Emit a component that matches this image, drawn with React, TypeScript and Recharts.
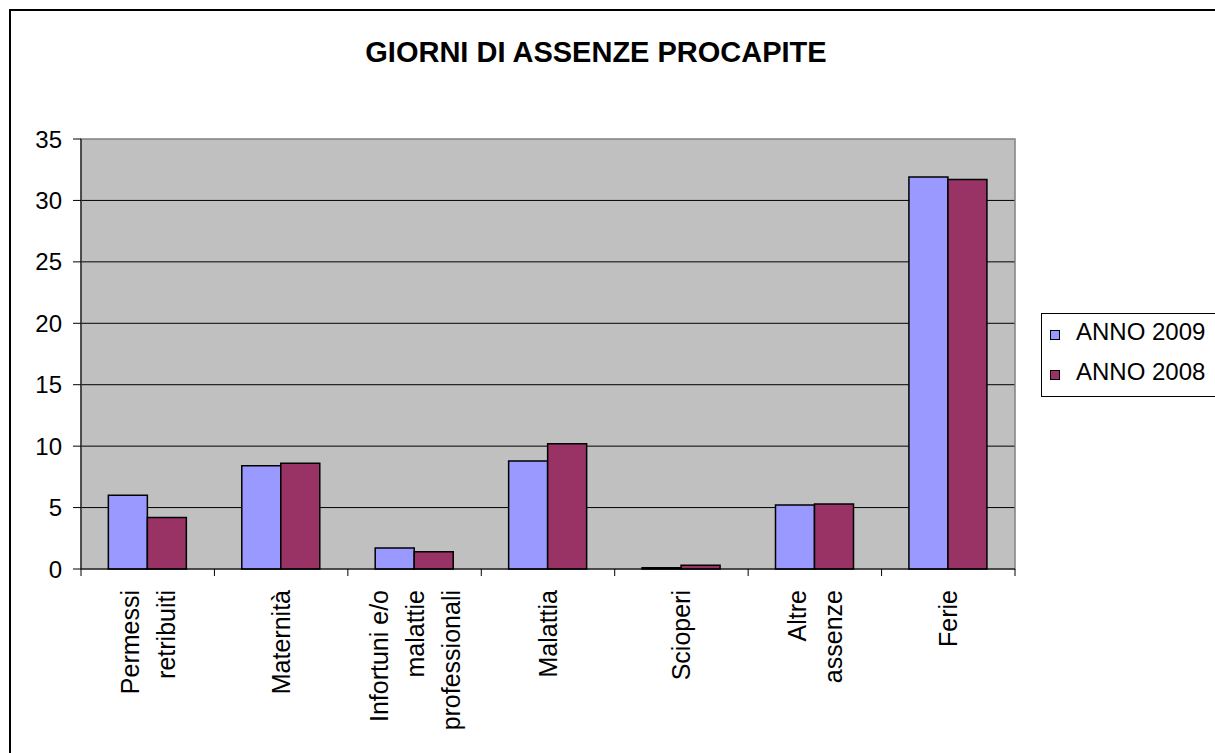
import React from 'react';
import {
  BarChart,
  Bar,
  XAxis,
  YAxis,
  CartesianGrid,
  ReferenceArea,
} from 'recharts';

const categories = [
  'Permessi retribuiti',
  'Maternità',
  'Infortuni e/o malattie professionali',
  'Malattia',
  'Scioperi',
  'Altre assenze',
  'Ferie',
];

// wrapped lines for the rotated axis labels
const categoryLines = [
  ['Permessi', 'retribuiti'],
  ['Maternità'],
  ['Infortuni e/o', 'malattie', 'professionali'],
  ['Malattia'],
  ['Scioperi'],
  ['Altre', 'assenze'],
  ['Ferie'],
];

const anno2009 = [6.0, 8.4, 1.7, 8.8, 0.1, 5.2, 31.9];
const anno2008 = [4.2, 8.6, 1.4, 10.2, 0.3, 5.3, 31.7];

const yTicks = [0, 5, 10, 15, 20, 25, 30, 35];
const gridValues = [5, 10, 15, 20, 25, 30];

const data = categories.map((name, i) => ({
  name,
  y2009: anno2009[i],
  y2008: anno2008[i],
}));

const FONT = '"Liberation Sans", Arial, sans-serif';
const WIDTH = 1207;
const HEIGHT = 745;
const Y_AXIS_W = 73;
const RIGHT = 200;
const BAND = (WIDTH - Y_AXIS_W - RIGHT) / categories.length;

const COLOR_2009 = '#9999FF';
const COLOR_2008 = '#993366';

type TickProps = {
  x?: number;
  y?: number;
  index?: number;
};

const CategoryTick = ({ x = 0, y = 0, index = 0 }: TickProps) => {
  const lines = categoryLines[index] || [];
  const n = lines.length;
  const last = index === categories.length - 1;
  return (
    <g>
      <line x1={x - BAND / 2} x2={x - BAND / 2} y1={y} y2={y + 7} stroke="#000" />
      {last && (
        <line x1={x + BAND / 2} x2={x + BAND / 2} y1={y} y2={y + 7} stroke="#000" />
      )}
      <g transform={`translate(${x},${y + 21})`}>
        <text
          transform="rotate(-90)"
          textAnchor="end"
          fontSize={25}
          fontFamily={FONT}
          fill="#000"
        >
          {lines.map((l, i) => (
            <tspan
              key={i}
              x={0}
              y={(i - (n - 1) / 2) * 36}
              dominantBaseline="central"
            >
              {l}
            </tspan>
          ))}
        </text>
      </g>
    </g>
  );
};

const legendItems = [
  { label: 'ANNO 2009', color: COLOR_2009 },
  { label: 'ANNO 2008', color: COLOR_2008 },
];

const LegendBox = () => (
  <div
    style={{
      position: 'absolute',
      left: 1041,
      top: 313,
      width: 200,
      height: 82,
      border: '1px solid #000',
      background: '#fff',
      fontFamily: FONT,
    }}
  >
    {legendItems.map((item, i) => (
      <React.Fragment key={item.label}>
        <div
          style={{
            position: 'absolute',
            left: 8,
            top: 16 + i * 40,
            width: 10,
            height: 10,
            boxSizing: 'border-box',
            border: '1px solid #000',
            background: item.color,
          }}
        />
        <div
          style={{
            position: 'absolute',
            left: 34,
            top: 6 + i * 40,
            fontSize: 24,
            lineHeight: '24px',
            whiteSpace: 'nowrap',
            color: '#000',
          }}
        >
          {item.label}
        </div>
      </React.Fragment>
    ))}
  </div>
);

const App = () => {
  return (
    <div
      style={{
        position: 'fixed',
        left: 0,
        top: 0,
        width: 1215,
        height: 753,
        overflow: 'hidden',
        background: '#fff',
        fontFamily: FONT,
      }}
    >
      <div
        style={{
          position: 'absolute',
          left: 9,
          top: 9,
          width: 1240,
          height: 800,
          border: '2px solid #000',
        }}
      />
      <div
        style={{
          position: 'absolute',
          left: 296,
          top: 38,
          width: 600,
          textAlign: 'center',
          fontSize: 29,
          lineHeight: '29px',
          fontWeight: 'bold',
          whiteSpace: 'nowrap',
          color: '#000',
        }}
      >
        GIORNI DI ASSENZE PROCAPITE
      </div>
      <div style={{ position: 'absolute', left: 8, top: 8 }}>
        <BarChart
          width={WIDTH}
          height={HEIGHT}
          data={data}
          margin={{ top: 131, right: RIGHT, left: 0, bottom: 0 }}
          barCategoryGap="20.5%"
          barGap={0}
        >
          <CartesianGrid
            vertical={false}
            fill="#C0C0C0"
            stroke="#000"
            horizontalValues={gridValues}
          />
          <ReferenceArea
            y1={0}
            y2={35}
            fill="none"
            stroke="#808080"
            strokeWidth={1.5}
            ifOverflow="visible"
          />
          <XAxis
            dataKey="name"
            interval={0}
            height={184}
            tickSize={0}
            tickMargin={0}
            axisLine={{ stroke: '#000' }}
            tickLine={false}
            tick={<CategoryTick />}
          />
          <YAxis
            width={Y_AXIS_W}
            domain={[0, 35]}
            ticks={yTicks}
            interval={0}
            tickSize={8}
            tickMargin={11}
            axisLine={{ stroke: '#000' }}
            tickLine={{ stroke: '#000' }}
            tick={{ fontSize: 24, fill: '#000', fontFamily: FONT }}
          />
          <Bar
            dataKey="y2009"
            name="ANNO 2009"
            fill={COLOR_2009}
            stroke="#000"
            strokeWidth={1.5}
            isAnimationActive={false}
          />
          <Bar
            dataKey="y2008"
            name="ANNO 2008"
            fill={COLOR_2008}
            stroke="#000"
            strokeWidth={1.5}
            isAnimationActive={false}
          />
        </BarChart>
      </div>
      <LegendBox />
    </div>
  );
};

export default App;
